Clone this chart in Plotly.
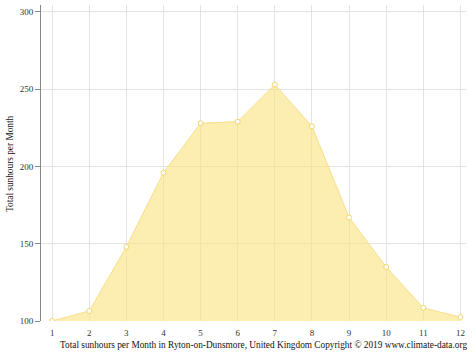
import plotly.graph_objects as go

months = [1, 2, 3, 4, 5, 6, 7, 8, 9, 10, 11, 12]
sunhours = [100, 106.5, 148, 196, 228, 229, 253, 226, 167, 135, 108.5, 102.5]
y_ticks = [100, 150, 200, 250, 300]
x_title = "Total sunhours per Month in Ryton-on-Dunsmore, United Kingdom Copyright © 2019 www.climate-data.org"
y_title = "Total sunhours per Month"

fig = go.Figure()
fig.add_trace(go.Scatter(
    x=months, y=sunhours, mode="lines+markers", fill="tozeroy",
    fillcolor="rgba(250,226,125,0.6)",
    line=dict(color="#f7df8a", width=1),
    marker=dict(size=5, color="white", line=dict(color="#f2d56e", width=1)),
    hoverinfo="skip",
))
fig.update_layout(
    width=474, height=355,
    margin=dict(l=41, r=8, t=5, b=34),
    paper_bgcolor="white", plot_bgcolor="white",
    font=dict(family="Liberation Serif", size=9, color="#333"),
    showlegend=False,
    xaxis=dict(
        range=[0.7, 12.15], tickvals=months, showgrid=True, gridcolor="#e3e3e3",
        zeroline=False, showline=False, ticks="", tickfont=dict(size=9),
        ticklabelstandoff=5,
    ),
    yaxis=dict(
        range=[100, 304.5], tickvals=y_ticks, showgrid=True, gridcolor="#e3e3e3",
        zeroline=False, showline=True, linecolor="#888", linewidth=1,
        ticks="outside", ticklen=5, tickcolor="#888", tickfont=dict(size=9),
    ),
    annotations=[
        dict(text=x_title, xref="paper", yref="paper", x=(263 - 41) / 425, y=-0.076,
             xanchor="center", yanchor="middle", showarrow=False,
             font=dict(size=9.3, color="#111")),
        dict(text=y_title, xref="paper", yref="paper", x=(10 - 41) / 425, y=(321 - 164) / 316,
             xanchor="center", yanchor="middle", showarrow=False, textangle=-90,
             font=dict(size=9.3, color="#111")),
    ],
)
fig.write_html("out.html")
